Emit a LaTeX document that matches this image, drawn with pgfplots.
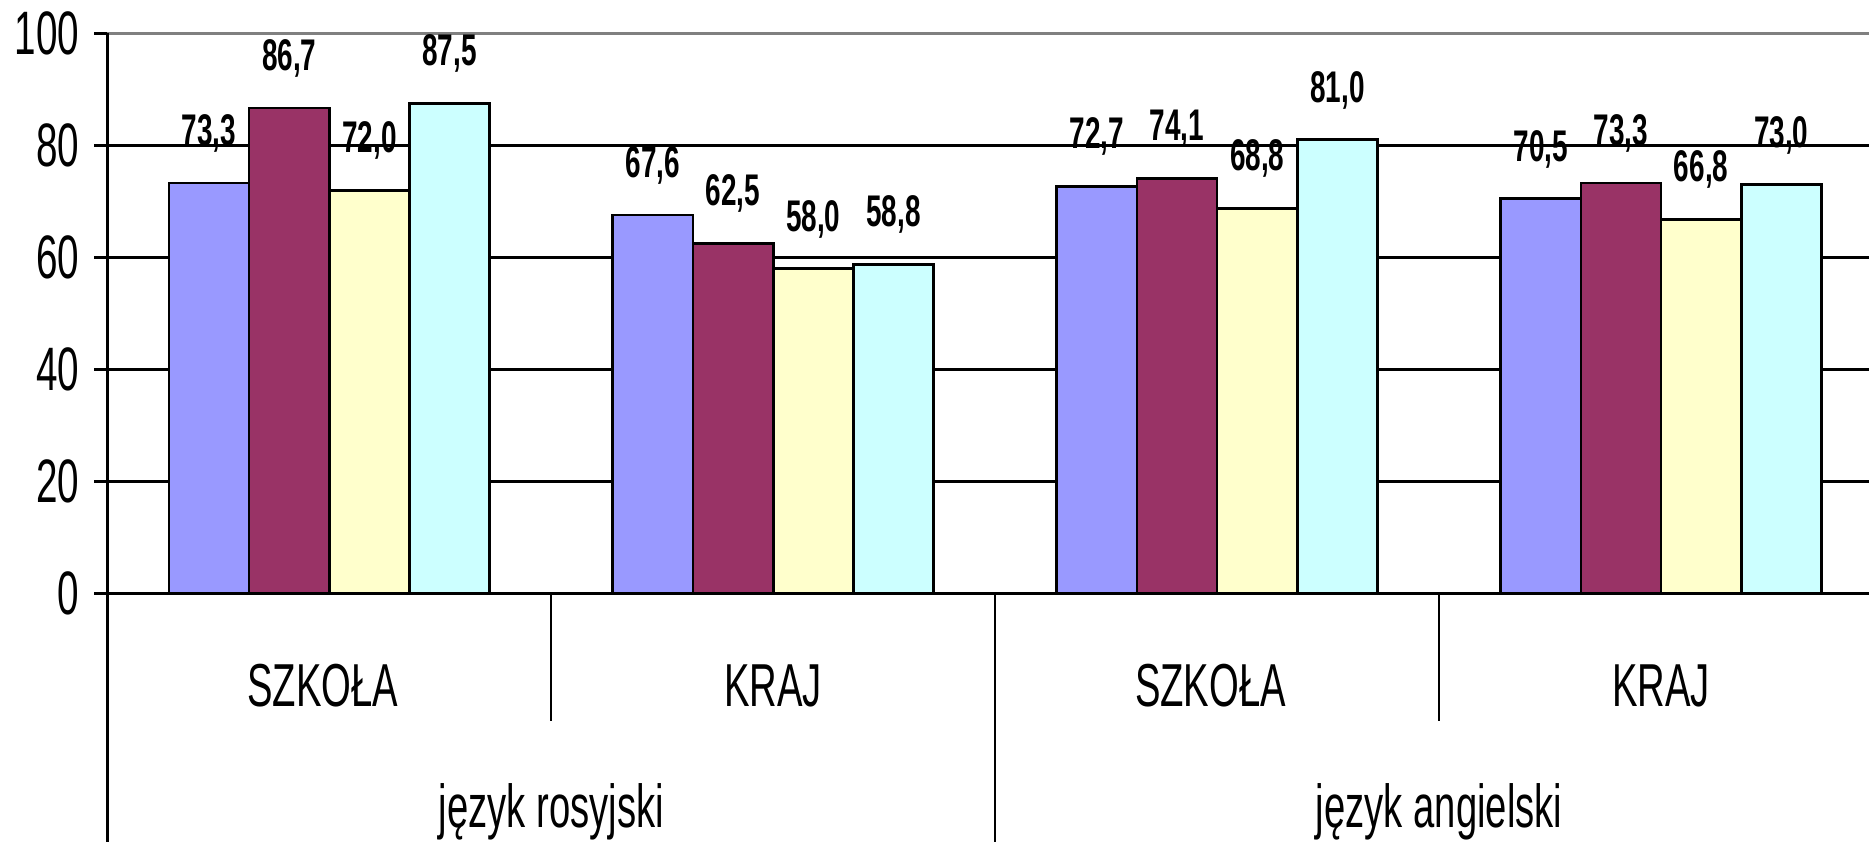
\documentclass[border=0pt]{standalone}
\usepackage{fontspec}
\setmainfont{Liberation Sans}[FakeStretch=0.63]
\usepackage{pgfplots}
\pgfplotsset{compat=1.18}
\usepackage{pgfplotstable}
\definecolor{cA}{RGB}{153,153,255}
\definecolor{cB}{RGB}{153,51,102}
\definecolor{cC}{RGB}{255,255,204}
\definecolor{cD}{RGB}{204,255,255}
\definecolor{bord}{RGB}{128,128,128}
\pgfplotstableread{
x y
0 73.3
1 67.6
2 72.7
3 70.5
}\sA
\pgfplotstableread{
x y
0 86.7
1 62.5
2 74.1
3 73.3
}\sB
\pgfplotstableread{
x y
0 72.0
1 58.0
2 68.8
3 66.8
}\sC
\pgfplotstableread{
x y
0 87.5
1 58.8
2 81.0
3 73.0
}\sD
\begin{document}
\begin{tikzpicture}
\begin{axis}[
 name=a, at={(0,0)}, anchor=south west,
 scale only axis, width=532.7pt, height=168.1pt,
 xmin=-0.5, xmax=3.5, ymin=0, ymax=100,
 clip=false,
 axis line style={draw=none},
 xtick=\empty,
 ytick={0,20,...,100},
 ytick pos=left,
 tick align=outside,
 major tick length=3.9pt,
 tick style={black, line width=0.9pt},
 ymajorgrids, grid style={black, line width=0.8pt},
 yticklabel style={font=\fontsize{18.4}{20}\selectfont, xshift=-1pt},
 /pgf/number format/assume math mode=true,
 ybar=0pt, bar width=24.06pt,
 nodes near coords={\pgfmathprintnumber[fixed,fixed zerofill,precision=1,use comma,assume math mode=true]{\pgfplotspointmeta}},
 nodes near coords style={font=\bfseries\fontsize{13.3}{15}\selectfont, anchor=center, yshift=14.9pt, text=black},
 every axis plot/.append style={draw=black, line width=0.8pt},
]
\addplot[fill=cA] table[x=x,y=y] {\sA};
\addplot[fill=cB] table[x=x,y=y] {\sB};
\addplot[fill=cC] table[x=x,y=y] {\sC};
\addplot[fill=cD] table[x=x,y=y] {\sD};
\draw[bord, line width=0.9pt] (axis cs:-0.5,100) -- (axis cs:3.5,100);
\draw[black, line width=0.8pt] (axis cs:-0.5,100) -- (axis cs:-0.5,-44.3);
\draw[black, line width=1pt] (axis cs:-0.5,0) -- (axis cs:3.5,0);
\draw[black, line width=0.6pt] (axis cs:0.5,0) -- (axis cs:0.5,-22.7);
\draw[black, line width=0.6pt] (axis cs:2.5,0) -- (axis cs:2.5,-22.7);
\draw[black, line width=0.6pt] (axis cs:1.5,0) -- (axis cs:1.5,-44.3);
\node[anchor=base, font=\fontsize{18.2}{20}\selectfont, inner sep=0pt, xshift=-2pt] at (axis cs:0,-20.06) {SZKOŁA};
\node[anchor=base, font=\fontsize{18.2}{20}\selectfont, inner sep=0pt] at (axis cs:1,-20.06) {KRAJ};
\node[anchor=base, font=\fontsize{18.2}{20}\selectfont, inner sep=0pt, xshift=-2pt] at (axis cs:2,-20.06) {SZKOŁA};
\node[anchor=base, font=\fontsize{18.2}{20}\selectfont, inner sep=0pt] at (axis cs:3,-20.06) {KRAJ};
\node[anchor=base, font=\fontsize{18.2}{20}\selectfont, inner sep=0pt] at (axis cs:0.5,-41.65) {język rosyjski};
\node[anchor=base, font=\fontsize{18.2}{20}\selectfont, inner sep=0pt] at (axis cs:2.5,-41.65) {język angielski};
\end{axis}
\pgfresetboundingbox
\useasboundingbox (-32.2pt,-74.5pt) rectangle (528.5pt,178.1pt);
\end{tikzpicture}
\end{document}
